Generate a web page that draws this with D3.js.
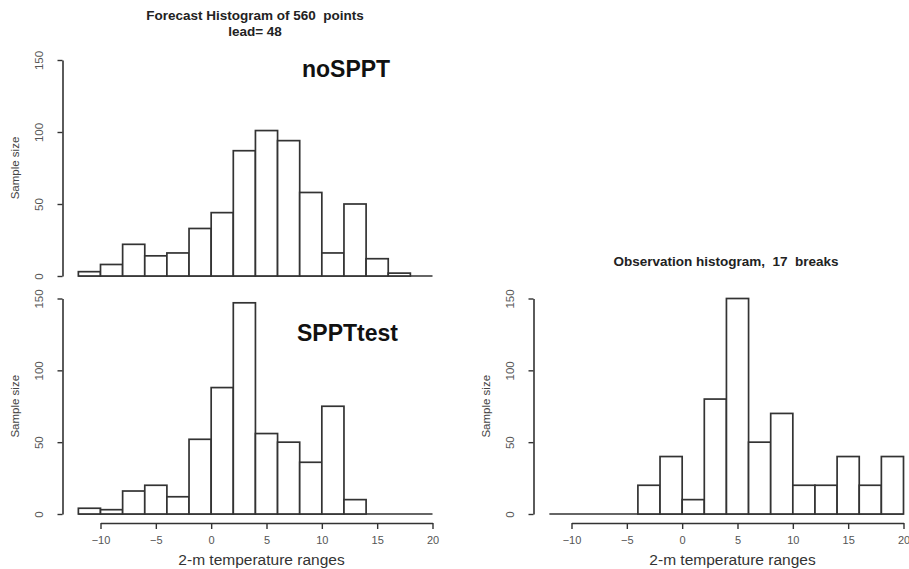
<!DOCTYPE html>
<html>
<head>
<meta charset="utf-8">
<script src="https://cdn.jsdelivr.net/npm/d3@7"></script>
<style>
    body { margin: 0; background: #fff; }
    svg { display: block; font-family: "Liberation Sans", Arial, sans-serif; }
</style>
</head>
<body>
<svg id="chart" width="909" height="569"></svg>
<script>
// bin edges (deg C) and counts
const forecastBreaks = [-12, -10, -8, -6, -4, -2, 0, 2, 4, 6, 8, 10, 12, 14, 16, 18];
const noSpptCounts = [3, 8, 22, 14, 16, 33, 44, 87, 101, 94, 58, 16, 50, 12, 2];
const spptBreaks = [-12, -10, -8, -6, -4, -2, 0, 2, 4, 6, 8, 10, 12, 14];
const spptCounts = [4, 3, 16, 20, 12, 52, 88, 147, 56, 50, 36, 75, 10];
const obsBreaks = [-4, -2, 0, 2, 4, 6, 8, 10, 12, 14, 16, 18, 20];
const obsCounts = [20, 40, 10, 80, 150, 50, 70, 20, 20, 40, 20, 40];

const xTicks = [-10, -5, 0, 5, 10, 15, 20];
const yTicks = [0, 50, 100, 150];
const baseRange = [-12, 20];

class Histogram {
    constructor(_config, _breaks, _counts) {
        this.config = {
            parent: _config.parent,
            xRange: _config.xRange,      // pixel range for -10..20
            yRange: _config.yRange,      // pixel range for 0..150
            showXAxis: _config.showXAxis || false,
            label: _config.label || null,
            labelPos: _config.labelPos || null
        }
        this.breaks = _breaks;
        this.counts = _counts;
        this.initVis();
    }

    initVis() {
        let vis = this;
        vis.x = d3.scaleLinear().domain([-10, 20]).range(vis.config.xRange);
        vis.y = d3.scaleLinear().domain([0, 150]).range(vis.config.yRange);
        vis.g = vis.config.parent.append('g');
        vis.ink = '#333';
        vis.updateVis();
    }

    updateVis() {
        let vis = this;
        let bins = vis.counts.map((c, i) => ({ x0: vis.breaks[i], x1: vis.breaks[i + 1], n: c }));

        // baseline across whole range
        vis.g.append('line')
            .attr('x1', vis.x(baseRange[0])).attr('x2', vis.x(baseRange[1]))
            .attr('y1', vis.y(0)).attr('y2', vis.y(0))
            .attr('stroke', vis.ink).attr('stroke-width', 1.7);

        vis.g.selectAll('rect.bar')
            .data(bins)
            .join('rect')
            .attr('class', 'bar')
            .attr('x', d => vis.x(d.x0))
            .attr('width', d => vis.x(d.x1) - vis.x(d.x0))
            .attr('y', d => vis.y(d.n))
            .attr('height', d => vis.y(0) - vis.y(d.n))
            .attr('fill', '#fff')
            .attr('stroke', vis.ink)
            .attr('stroke-width', 1.7);

        // y axis, R style: rotated labels
        let yAxis = d3.axisLeft(vis.y).tickValues(yTicks).tickSize(5).tickSizeOuter(0).tickPadding(10);
        let yg = vis.g.append('g')
            .attr('transform', `translate(${vis.x(-10) - 38},0)`)
            .call(yAxis);
        yg.select('.domain').attr('stroke', vis.ink).attr('stroke-width', 1.6);
        yg.selectAll('.tick line').attr('stroke', vis.ink).attr('stroke-width', 1.4);
        yg.selectAll('.tick text')
            .attr('fill', '#555')
            .style('font-size', '11.5px')
            .attr('x', null).attr('dy', null)
            .attr('text-anchor', 'middle')
            .attr('transform', 'translate(-20,0) rotate(-90)');

        if (vis.config.showXAxis) {
            let xAxis = d3.axisBottom(vis.x).tickValues(xTicks).tickSize(6).tickSizeOuter(0).tickPadding(7)
                .tickFormat(d => d3.format('')(d).replace('-', '\u2212'));
            let xg = vis.g.append('g')
                .attr('transform', `translate(0,${vis.y(0) + 9})`)
                .call(xAxis);
            xg.select('.domain').attr('stroke', vis.ink).attr('stroke-width', 1.6);
            xg.selectAll('.tick line').attr('stroke', vis.ink).attr('stroke-width', 1.4);
            xg.selectAll('.tick text').attr('fill', '#555').style('font-size', '11px');

            vis.g.append('text')
                .attr('x', (vis.x(-10) + vis.x(20)) / 2 - 5)
                .attr('y', vis.y(0) + 51)
                .attr('text-anchor', 'middle')
                .attr('fill', '#333')
                .style('font-size', '15.5px')
                .text('2-m temperature ranges');
        }

        vis.g.append('text')
            .attr('transform', `translate(${vis.x(-10) - 82},${(vis.y(0) + vis.y(150)) / 2}) rotate(-90)`)
            .attr('text-anchor', 'middle')
            .attr('fill', '#444')
            .style('font-size', '11.5px')
            .text('Sample size');

        if (vis.config.label) {
            vis.g.append('text')
                .attr('x', vis.config.labelPos[0])
                .attr('y', vis.config.labelPos[1])
                .attr('fill', '#111')
                .style('font-size', '23px')
                .style('font-weight', 'bold')
                .text(vis.config.label);
        }
    }
}

const svg = d3.select('#chart');

new Histogram({ parent: svg, xRange: [100.5, 432.5], yRange: [276, 60], label: 'noSPPT', labelPos: [302, 77] },
    forecastBreaks, noSpptCounts);
new Histogram({ parent: svg, xRange: [100.5, 432.5], yRange: [514, 298.5], showXAxis: true, label: 'SPPTtest', labelPos: [297, 341] },
    spptBreaks, spptCounts);
new Histogram({ parent: svg, xRange: [571.5, 903.5], yRange: [514, 298.5], showXAxis: true },
    obsBreaks, obsCounts);

const titles = [
    { text: 'Forecast Histogram of 560\u00a0 points', x: 255, y: 20 },
    { text: 'lead= 48', x: 255, y: 36 },
    { text: 'Observation histogram,\u00a0 17\u00a0 breaks', x: 726, y: 266 }
];
svg.selectAll('text.title')
    .data(titles)
    .join('text')
    .attr('class', 'title')
    .attr('x', d => d.x)
    .attr('y', d => d.y)
    .attr('text-anchor', 'middle')
    .attr('fill', '#222')
    .style('font-size', '13.5px')
    .style('font-weight', 'bold')
    .text(d => d.text);
</script>
</body>
</html>
